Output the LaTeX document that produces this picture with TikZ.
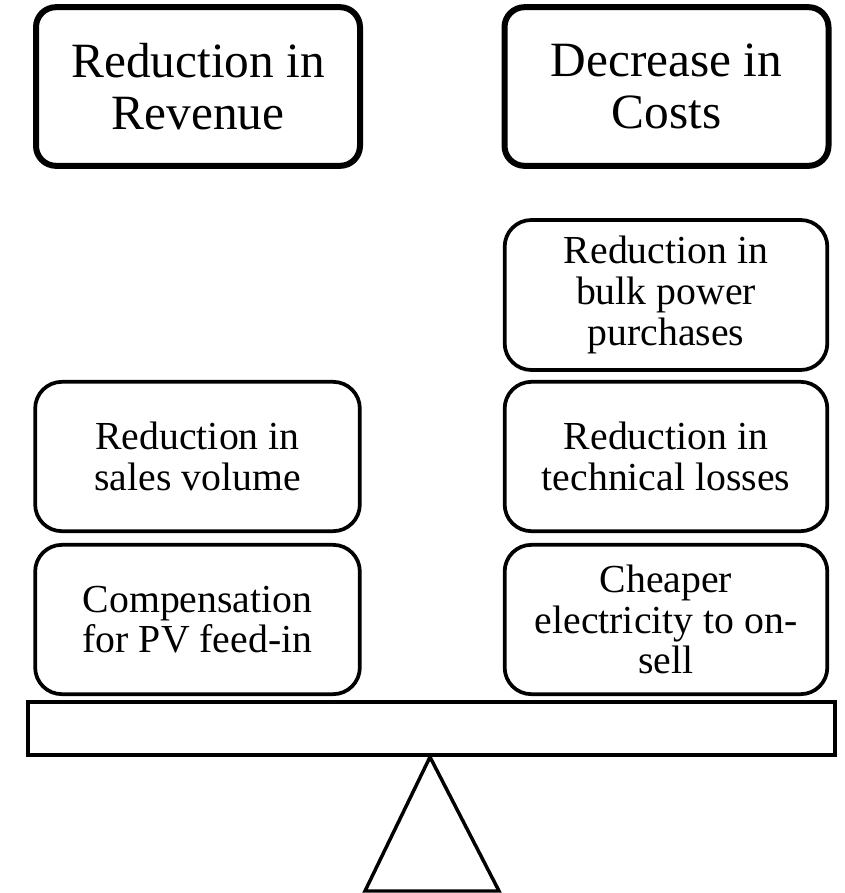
\documentclass[tikz,border=0pt]{standalone}
\usepackage{fontspec}
\setmainfont{Liberation Serif}
\begin{document}
\begin{tikzpicture}[x=0.75pt,y=-0.75pt,
  bigbox/.style={draw, line width=4.5pt, rounded corners=15pt, minimum width=243pt, minimum height=119pt, inner sep=0pt, align=center, font=\fontsize{37}{39}\selectfont},
  smallbox/.style={draw, line width=2.8pt, rounded corners=20pt, minimum width=242pt, minimum height=112pt, inner sep=0pt, align=center, font=\fontsize{29.8}{30.5}\selectfont},
  beamstyle/.style={draw, line width=3pt, minimum width=605pt, minimum height=40pt, inner sep=0pt}]
\useasboundingbox (0,0) rectangle (844,893);
\clip (0,0) rectangle (844,893);
\node[bigbox] (rev) at (198,86.5) {Reduction in\\Revenue};
\node[bigbox] (cost) at (666.5,86.5) {Decrease in\\Costs};
\node[smallbox, minimum height=112.5pt] (bulk) at (666,295) {Reduction in\\bulk power\\purchases};
\node[smallbox] (tech) at (666,456.5) {Reduction in\\technical losses};
\node[smallbox] (cheap) at (666,619.5) {Cheaper\\electricity to on-\\sell};
\node[smallbox, minimum width=243.5pt] (sales) at (197.5,456.5) {Reduction in\\sales volume};
\node[smallbox, minimum width=243.5pt] (comp) at (197.5,619.5) {Compensation\\for PV feed-in};
\node[beamstyle] (beam) at (431.5,728.5) {};
\coordinate (apex) at (430,757);
\coordinate (bl) at (365,891);
\coordinate (br) at (499,891);
\draw[line width=2.6pt, line join=miter] (apex) -- (bl) -- (br) -- cycle;
\end{tikzpicture}
\end{document}
